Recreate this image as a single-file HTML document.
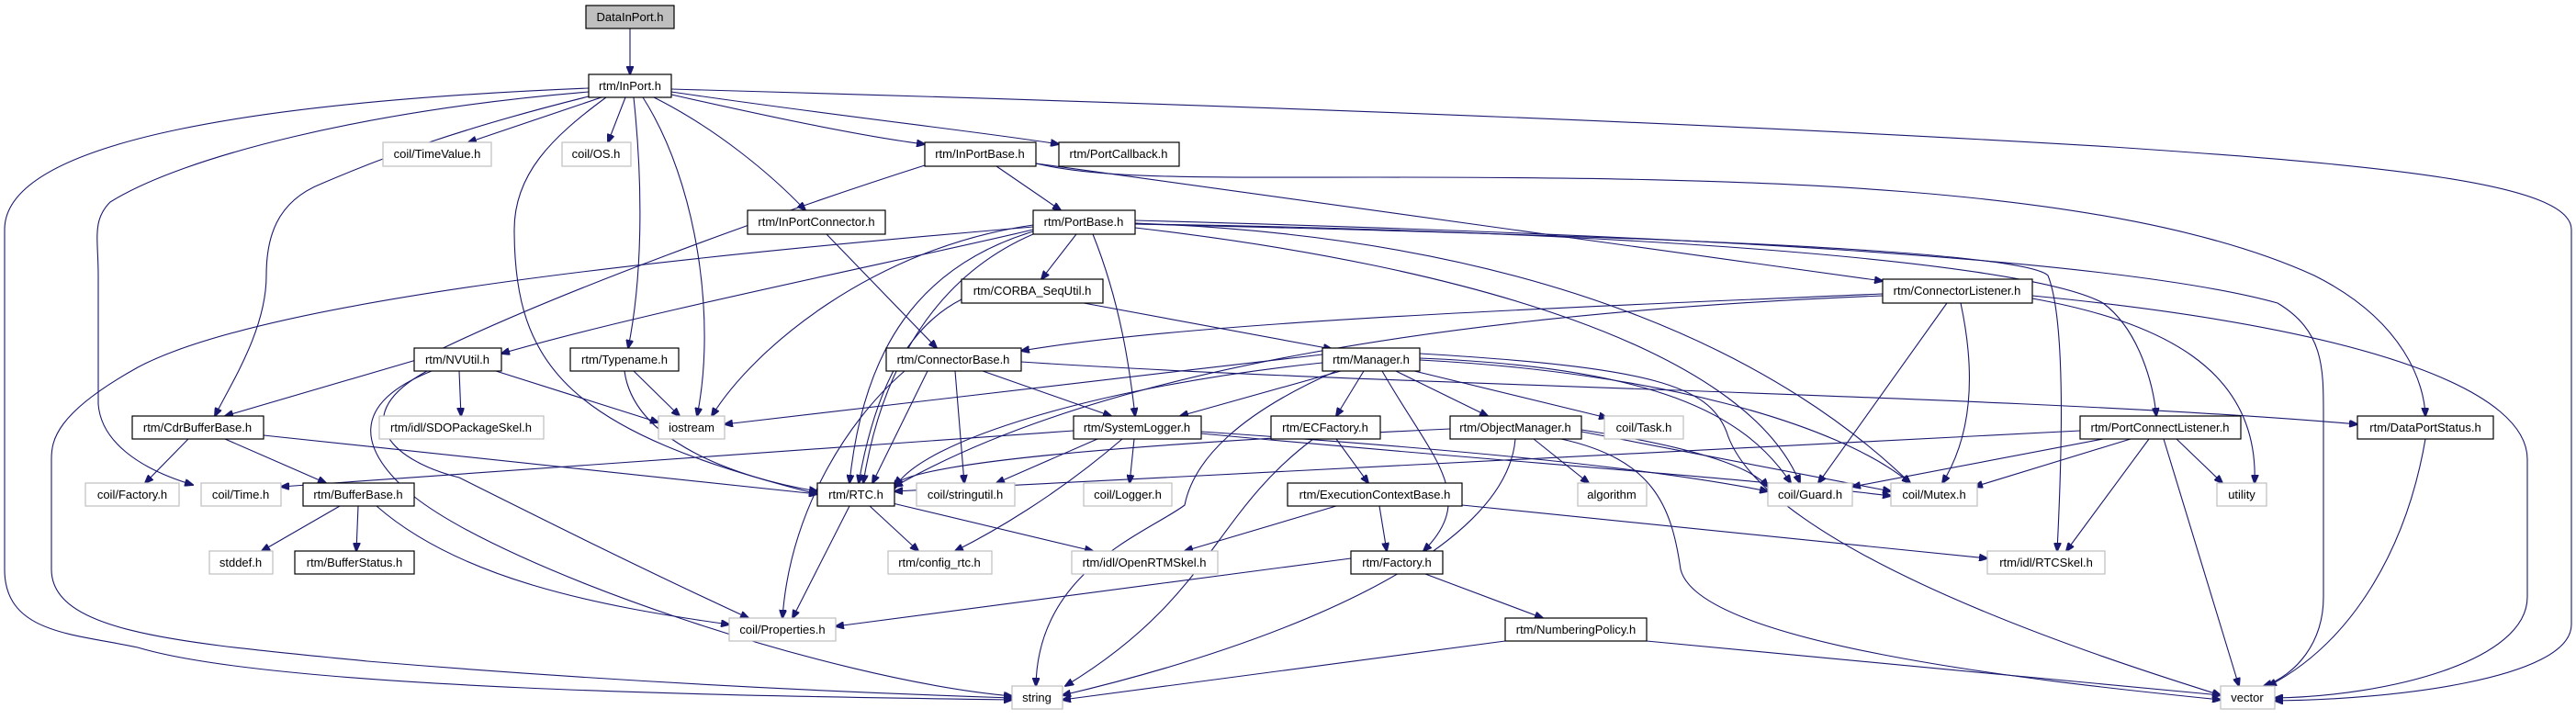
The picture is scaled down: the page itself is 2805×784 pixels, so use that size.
<!DOCTYPE html>
<html><head><meta charset="utf-8"><style>
html,body{margin:0;padding:0;background:#fff;}
svg{display:block;}
text{font-family:"Liberation Sans",Arial,sans-serif;font-size:13px;fill:#000;}
.d rect{fill:#fff;stroke:#000;stroke-width:1.2;}
.u rect{fill:#fff;stroke:#bfbfbf;stroke-width:1.2;}
path{fill:none;stroke:#191970;stroke-width:1.1;}
</style></head><body>
<svg width="2805" height="784" viewBox="0 0 2805 784" xmlns="http://www.w3.org/2000/svg">
<defs><marker id="a" markerWidth="10" markerHeight="8" refX="9" refY="4" orient="auto" markerUnits="userSpaceOnUse"><path d="M0,0 L10,4 L0,8 z" style="fill:#191970;stroke:#191970"/></marker></defs>
<g marker-end="url(#a)">
<path d="M686,31 L686,81"/>
<path d="M655,106 L510,155"/>
<path d="M681,106 L662,155"/>
<path d="M731,103 C850,130 950,150 1007,157"/>
<path d="M731,100 C900,125 1080,145 1153,157"/>
<path d="M712,106 C780,140 840,190 877,229"/>
<path d="M690,106 C700,200 700,300 684,379"/>
<path d="M700,106 C760,200 780,350 759,453"/>
<path d="M660,106 C600,150 560,190 560,250 C560,400 620,470 890,538"/>
<path d="M645,104 C500,140 420,170 350,200 C300,220 290,260 290,300 C290,360 250,420 234,453"/>
<path d="M641,100 C400,120 200,170 120,220 C100,240 107,260 107,300 L107,440 C110,480 150,510 210,528"/>
<path d="M641,96 C300,110 5,150 5,250 L5,620 C5,690 80,690 150,705 C300,750 800,758 1102,762"/>
<path d="M731,97 C1200,110 1800,130 2300,160 C2600,180 2800,200 2800,250 L2800,680 C2800,740 2600,762 2477,763"/>
<path d="M1007,180 C850,230 600,320 460,390 L245,453"/>
<path d="M1085,181 L1155,229"/>
<path d="M1128,178 L2050,306"/>
<path d="M1128,178 C1200,195 1300,193 1500,193 C1900,193 2300,200 2520,300 C2620,350 2640,420 2641,453"/>
<path d="M900,255 L1020,379"/>
<path d="M1172,255 L1134,304"/>
<path d="M1190,255 C1220,330 1230,400 1236,453"/>
<path d="M1125,252 C1000,290 940,380 925,526"/>
<path d="M1125,255 C1020,300 960,400 940,526"/>
<path d="M1125,245 C950,270 820,380 775,453"/>
<path d="M1125,250 C1000,280 700,340 546,385"/>
<path d="M1125,247 C800,275 300,320 150,400 C60,450 56,480 56,500 L56,620 C56,690 200,700 400,720 C700,745 950,755 1102,760"/>
<path d="M1236,244 C1700,250 2200,280 2290,330 C2330,360 2345,420 2348,453"/>
<path d="M1236,244 C1700,255 2200,270 2230,300 C2250,350 2245,500 2240,600"/>
<path d="M1236,240 C1800,255 2300,280 2480,330 C2530,360 2530,400 2530,450 L2530,650 C2530,700 2500,735 2465,747"/>
<path d="M1236,248 C1600,290 1900,380 1960,526"/>
<path d="M1236,243 C1700,260 1950,400 2080,526"/>
<path d="M1180,330 L1450,380"/>
<path d="M1047,326 C980,360 950,440 935,526"/>
<path d="M2050,320 C1700,335 1300,350 1112,382"/>
<path d="M2050,322 C1600,340 1200,400 974,530"/>
<path d="M2120,330 L1980,526"/>
<path d="M2135,330 C2150,400 2150,470 2115,526"/>
<path d="M2213,325 C2350,350 2460,400 2455,526"/>
<path d="M2213,322 C2600,360 2752,430 2752,500 L2752,650 C2752,720 2600,758 2477,760"/>
<path d="M985,404 C920,460 860,560 852,673"/>
<path d="M1010,404 L950,526"/>
<path d="M1040,404 L1050,526"/>
<path d="M1070,404 L1210,453"/>
<path d="M1112,394 C1500,420 2200,430 2567,462"/>
<path d="M1440,386 L789,462"/>
<path d="M1440,395 C1200,420 1000,480 974,532"/>
<path d="M1460,404 L1285,453"/>
<path d="M1485,404 L1455,453"/>
<path d="M1520,404 L1620,453"/>
<path d="M1540,404 L1750,455"/>
<path d="M1505,404 C1560,500 1610,540 1550,600"/>
<path d="M1455,404 C1350,450 1300,500 1290,550 C1250,580 1130,620 1128,747"/>
<path d="M1546,390 C1800,400 1900,450 1950,526"/>
<path d="M1546,392 C1800,405 2000,460 2080,526"/>
<path d="M1546,385 C1800,400 1860,420 1880,470 C1920,600 2300,720 2418,757"/>
<path d="M500,404 L502,453"/>
<path d="M540,404 L717,460"/>
<path d="M470,404 C380,440 390,490 450,540 C550,620 900,740 1102,758"/>
<path d="M465,404 C380,450 420,500 500,520 C600,570 700,620 815,673"/>
<path d="M690,404 L740,453"/>
<path d="M680,404 C690,480 800,520 890,535"/>
<path d="M205,478 L158,526"/>
<path d="M245,478 L355,526"/>
<path d="M287,474 L890,538"/>
<path d="M370,551 L285,600"/>
<path d="M390,551 L388,600"/>
<path d="M410,551 C500,630 650,660 794,680"/>
<path d="M1169,469 L306,530"/>
<path d="M1195,478 L1085,526"/>
<path d="M1235,478 L1230,526"/>
<path d="M1222,478 C1150,540 1080,580 1040,600"/>
<path d="M1308,470 C1600,490 1800,510 1925,535"/>
<path d="M1308,472 C1600,500 1900,520 2059,540"/>
<path d="M947,551 L1000,600"/>
<path d="M972,548 L1190,600"/>
<path d="M925,551 L863,673"/>
<path d="M1455,478 L1490,526"/>
<path d="M1430,478 C1320,560 1320,650 1160,747"/>
<path d="M1579,467 C1300,480 1000,500 974,528"/>
<path d="M1670,478 L1730,526"/>
<path d="M1722,468 C1800,480 1900,500 1925,530"/>
<path d="M1722,470 L2059,535"/>
<path d="M1650,478 C1640,600 1400,700 1157,757"/>
<path d="M1700,478 C1800,500 1820,550 1830,620 C1850,700 2200,740 2418,762"/>
<path d="M1455,551 L1290,600"/>
<path d="M1502,551 L1510,600"/>
<path d="M1592,550 L2164,608"/>
<path d="M1471,608 L910,682"/>
<path d="M1552,625 L1680,673"/>
<path d="M1639,698 L1157,762"/>
<path d="M1793,698 L2418,757"/>
<path d="M2265,469 L974,535"/>
<path d="M2290,478 L2017,530"/>
<path d="M2320,478 L2150,530"/>
<path d="M2340,478 L2250,600"/>
<path d="M2370,478 L2420,526"/>
<path d="M2356,478 L2438,747"/>
<path d="M2641,478 C2620,600 2560,700 2470,747"/>
</g>
<g class="d">
<rect x="638" y="6" width="96" height="25" style="fill:#bfbfbf"/><text x="686" y="23" text-anchor="middle">DataInPort.h</text>
<rect x="641" y="81" width="90" height="25"/><text x="686" y="98" text-anchor="middle">rtm/InPort.h</text>
<rect x="1007" y="155" width="121" height="26"/><text x="1067" y="172" text-anchor="middle">rtm/InPortBase.h</text>
<rect x="1153" y="155" width="131" height="26"/><text x="1218" y="172" text-anchor="middle">rtm/PortCallback.h</text>
<rect x="814" y="229" width="150" height="26"/><text x="889" y="246" text-anchor="middle">rtm/InPortConnector.h</text>
<rect x="1125" y="229" width="111" height="26"/><text x="1180" y="246" text-anchor="middle">rtm/PortBase.h</text>
<rect x="1047" y="304" width="154" height="26"/><text x="1124" y="321" text-anchor="middle">rtm/CORBA_SeqUtil.h</text>
<rect x="2050" y="304" width="163" height="26"/><text x="2131" y="321" text-anchor="middle">rtm/ConnectorListener.h</text>
<rect x="451" y="379" width="95" height="25"/><text x="498" y="396" text-anchor="middle">rtm/NVUtil.h</text>
<rect x="621" y="379" width="118" height="25"/><text x="680" y="396" text-anchor="middle">rtm/Typename.h</text>
<rect x="965" y="379" width="147" height="25"/><text x="1038" y="396" text-anchor="middle">rtm/ConnectorBase.h</text>
<rect x="1440" y="379" width="106" height="25"/><text x="1493" y="396" text-anchor="middle">rtm/Manager.h</text>
<rect x="144" y="453" width="143" height="25"/><text x="215" y="470" text-anchor="middle">rtm/CdrBufferBase.h</text>
<rect x="1169" y="453" width="139" height="25"/><text x="1238" y="470" text-anchor="middle">rtm/SystemLogger.h</text>
<rect x="1384" y="453" width="119" height="25"/><text x="1443" y="470" text-anchor="middle">rtm/ECFactory.h</text>
<rect x="1579" y="453" width="143" height="25"/><text x="1650" y="470" text-anchor="middle">rtm/ObjectManager.h</text>
<rect x="2265" y="453" width="175" height="25"/><text x="2352" y="470" text-anchor="middle">rtm/PortConnectListener.h</text>
<rect x="2567" y="453" width="148" height="25"/><text x="2641" y="470" text-anchor="middle">rtm/DataPortStatus.h</text>
<rect x="330" y="526" width="121" height="25"/><text x="390" y="543" text-anchor="middle">rtm/BufferBase.h</text>
<rect x="890" y="526" width="84" height="25"/><text x="932" y="543" text-anchor="middle">rtm/RTC.h</text>
<rect x="1402" y="526" width="190" height="25"/><text x="1497" y="543" text-anchor="middle">rtm/ExecutionContextBase.h</text>
<rect x="321" y="600" width="130" height="25"/><text x="386" y="617" text-anchor="middle">rtm/BufferStatus.h</text>
<rect x="1471" y="600" width="100" height="25"/><text x="1521" y="617" text-anchor="middle">rtm/Factory.h</text>
<rect x="1639" y="673" width="154" height="25"/><text x="1716" y="690" text-anchor="middle">rtm/NumberingPolicy.h</text>
</g>
<g class="u">
<rect x="417" y="155" width="118" height="26"/><text x="476" y="172" text-anchor="middle">coil/TimeValue.h</text>
<rect x="612" y="155" width="75" height="26"/><text x="649" y="172" text-anchor="middle">coil/OS.h</text>
<rect x="413" y="453" width="179" height="25"/><text x="502" y="470" text-anchor="middle">rtm/idl/SDOPackageSkel.h</text>
<rect x="717" y="453" width="72" height="25"/><text x="753" y="470" text-anchor="middle">iostream</text>
<rect x="1747" y="453" width="86" height="25"/><text x="1790" y="470" text-anchor="middle">coil/Task.h</text>
<rect x="93" y="526" width="102" height="25"/><text x="144" y="543" text-anchor="middle">coil/Factory.h</text>
<rect x="219" y="526" width="87" height="25"/><text x="262" y="543" text-anchor="middle">coil/Time.h</text>
<rect x="998" y="526" width="107" height="25"/><text x="1051" y="543" text-anchor="middle">coil/stringutil.h</text>
<rect x="1180" y="526" width="96" height="25"/><text x="1228" y="543" text-anchor="middle">coil/Logger.h</text>
<rect x="1718" y="526" width="75" height="25"/><text x="1755" y="543" text-anchor="middle">algorithm</text>
<rect x="1925" y="526" width="92" height="25"/><text x="1971" y="543" text-anchor="middle">coil/Guard.h</text>
<rect x="2059" y="526" width="94" height="25"/><text x="2106" y="543" text-anchor="middle">coil/Mutex.h</text>
<rect x="2414" y="526" width="54" height="25"/><text x="2441" y="543" text-anchor="middle">utility</text>
<rect x="228" y="600" width="69" height="25"/><text x="262" y="617" text-anchor="middle">stddef.h</text>
<rect x="967" y="600" width="113" height="25"/><text x="1023" y="617" text-anchor="middle">rtm/config_rtc.h</text>
<rect x="1167" y="600" width="159" height="25"/><text x="1246" y="617" text-anchor="middle">rtm/idl/OpenRTMSkel.h</text>
<rect x="2164" y="600" width="128" height="25"/><text x="2228" y="617" text-anchor="middle">rtm/idl/RTCSkel.h</text>
<rect x="794" y="673" width="116" height="25"/><text x="852" y="690" text-anchor="middle">coil/Properties.h</text>
<rect x="1102" y="747" width="55" height="25"/><text x="1129" y="764" text-anchor="middle">string</text>
<rect x="2418" y="747" width="59" height="25"/><text x="2447" y="764" text-anchor="middle">vector</text>
</g>
</svg>
</body></html>
